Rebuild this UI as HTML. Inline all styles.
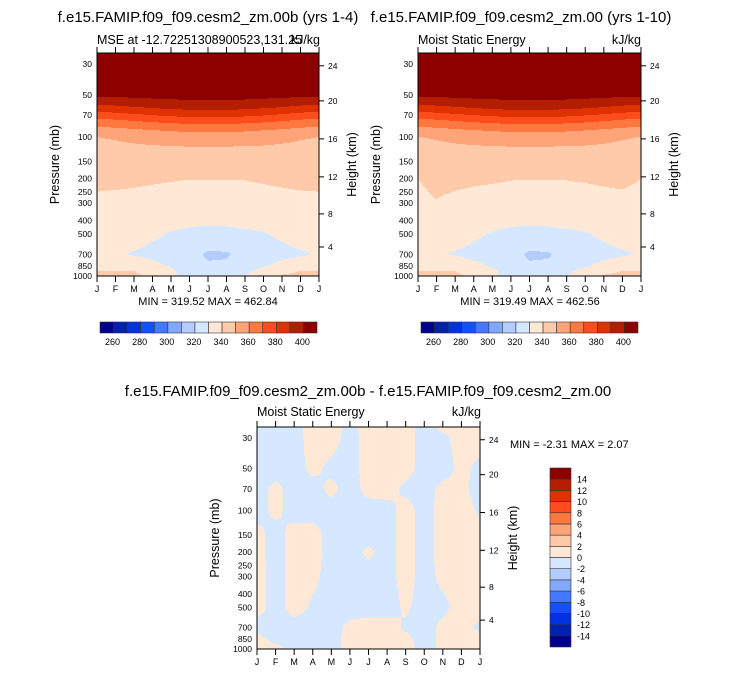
<!DOCTYPE html>
<html><head><meta charset="utf-8"><style>
html,body{margin:0;padding:0;background:#fff;}
svg{display:block;font-family:"Liberation Sans",Arial,sans-serif;}
</style></head><body>
<svg id="fig" width="733" height="674" viewBox="0 0 733 674">
<text x="208" y="22" font-size="15" text-anchor="middle">f.e15.FAMIP.f09_f09.cesm2_zm.00b (yrs 1-4)</text>
<text x="521" y="22" font-size="15" text-anchor="middle">f.e15.FAMIP.f09_f09.cesm2_zm.00 (yrs 1-10)</text>
<text x="368" y="396" font-size="15" text-anchor="middle">f.e15.FAMIP.f09_f09.cesm2_zm.00b - f.e15.FAMIP.f09_f09.cesm2_zm.00</text>
<text x="97" y="44" font-size="12.5">MSE at -12.72251308900523,131.25</text>
<text x="320" y="44" font-size="12.5" text-anchor="end">kJ/kg</text>
<text x="418" y="44" font-size="12.5">Moist Static Energy</text>
<text x="641" y="44" font-size="12.5" text-anchor="end">kJ/kg</text>
<text x="257" y="416" font-size="12.5">Moist Static Energy</text>
<text x="481" y="416" font-size="12.5" text-anchor="end">kJ/kg</text>
<text x="208" y="305" font-size="11" text-anchor="middle">MIN = 319.52 MAX = 462.84</text>
<text x="530" y="305" font-size="11" text-anchor="middle">MIN = 319.49 MAX = 462.56</text>
<text x="510" y="448" font-size="11">MIN =  -2.31 MAX =   2.07</text>
</svg>
<script>
const months = ["J","F","M","A","M","J","J","A","S","O","N","D","J"];
const pTicks = [1000,850,700,500,400,300,250,200,150,100,70,50,30];
const hTicks = [4,8,12,16,20,24];
const hTickP = [619,358,194,103.5,55.2,30.9];
const mseLevels = [260,270,280,290,300,310,320,330,340,350,360,370,380,390,400];
const diffLevels = [-14,-12,-10,-8,-6,-4,-2,0,2,4,6,8,10,12,14];
const palette = ["#00008c","#0020b0","#0032e0","#1450ff","#4678ff","#80a8ff","#b4ccff","#d6e8ff","#ffe8d6","#ffcaaa","#ffa478","#ff7840","#ff4c1c","#e03200","#b41e00","#8c0000"];
const mseP = [1000,925,850,700,600,500,400,300,250,200,125,100,90,80,70,65,60,55,50,40,30,25];
const mseA = [
[342,342,341,339,331,328,327,328,329.5,334,340.8,341.5,342],
[340.3,340.3,340.1,337,331,327.5,327,327.5,329,332,338,340.2,340.3],
[336,335.5,334,331.5,329.5,327,322,323,327.5,329.5,331.5,333.5,335],
[331.5,330.8,329.5,328.5,327.5,326,317.5,318,326,327.5,328.5,329.2,330.5],
[332,331.5,330.8,329.6,328.5,327.5,324,325,328,328.5,329.5,330.8,332],
[333,333,332,331,329.5,328.8,328.5,328.6,329,329.6,331,332.5,333],
[334,334,333.5,333,332,331,331,331,331.5,332,333,334,334],
[337,337,336.8,336.5,336.2,336,336,336,336,336.3,336.6,336.9,337],
[339.9,339.6,339.3,339,338.7,338.5,338.5,338.5,338.6,338.9,339.3,339.7,339.9],
[342.4,342,341.4,340.8,340.4,340.1,340.1,340.1,340.2,340.7,341.3,342,342.4],
[347.5,347.6,347.7,347.8,347.9,348,348,348,347.9,347.9,347.7,347.6,347.5],
[350,350.8,352.2,353.5,354.6,355.4,355.4,355.4,354.9,353.8,352.4,350.8,350],
[356.1,356.9,358.3,359.6,360.7,361.5,361.5,361.5,361,359.9,358.5,356.9,356.1],
[363.9,364.9,366.7,368.4,369.8,370.8,370.8,370.8,370.1,368.7,367,364.9,363.9],
[374.9,376,378,379.9,381.4,382.6,382.6,382.6,381.8,380.3,378.4,376,374.9],
[381.9,382.9,384.6,386.3,387.7,388.7,388.7,388.7,388,386.7,385,382.9,381.9],
[388.6,389.6,391.3,393,394.3,395.3,395.3,395.3,394.6,393.3,391.6,389.6,388.6],
[395,395.6,396.7,397.7,398.6,399.2,399.2,399.2,398.8,397.9,396.9,395.6,395],
[402,402.5,403.2,404,404.5,405,405,405,404.7,404.1,403.4,402.5,402],
[420,420,419.5,419,418.5,418,418,418,418.3,418.8,419.3,420,420],
[445,445,444.5,444,443.5,443,443,443,443.3,443.8,444.3,445,445],
[460,460,460,460,460,460,460,460,460,460,460,460,460]];
const mseB = [
[342,342,341,339,331,328,327,328,329.5,334,340.8,341.5,342],
[340.3,340.3,340.1,337,331,327.5,327,327.5,329,332,338,340.2,340.3],
[336,335.5,334,331.5,329.5,327,322,323,327.5,329.5,331.5,333.5,335],
[331.5,330.8,329.5,328.5,327.5,326,317.5,318.2,326,327.5,328.5,329.2,330.5],
[332,331.5,330.8,329.6,328.5,327.5,324,325,328,328.5,329.5,330.8,332],
[333,333,332,331,329.5,328.8,328.5,328.6,329,329.6,331,332.5,333],
[334,334.5,333.5,333,332,331,331,331,331.5,332,333,334,334],
[337.5,339.5,337,336.7,336.4,336.2,336,336,336,336.3,336.8,338,337.5],
[338.5,341,339.8,339.3,339,338.8,338.6,338.6,338.7,338.9,339.3,339.6,338.5],
[340,343,341.5,341,340.6,340.2,340.1,340.1,340.2,340.5,341,341.6,340],
[347.5,347.6,347.7,347.8,347.9,348,348,348,347.9,347.9,347.7,347.6,347.5],
[349.8,350.8,352.2,353.5,354.6,355.4,355.4,355.4,354.9,353.8,352.4,350.8,349.8],
[356.1,356.9,358.3,359.6,360.7,361.5,361.5,361.5,361,359.9,358.5,356.9,356.1],
[363.9,364.9,366.7,368.4,369.8,370.8,370.8,370.8,370.1,368.7,367,364.9,363.9],
[374.9,376,378,379.9,381.4,382.6,382.6,382.6,381.8,380.3,378.4,376,374.9],
[381.9,382.9,384.6,386.3,387.7,388.7,388.7,388.7,388,386.7,385,382.9,381.9],
[388.6,389.6,391.3,393,394.3,395.3,395.3,395.3,394.6,393.3,391.6,389.6,388.6],
[395,395.6,396.7,397.7,398.6,399.2,399.2,399.2,398.8,397.9,396.9,395.6,395],
[402,402.5,403.2,404,404.5,405,405,405,404.7,404.1,403.4,402.5,402],
[420,420,419.5,419,418.5,418,418,418,418.3,418.8,419.3,420,420],
[445,445,444.5,444,443.5,443,443,443,443.3,443.8,444.3,445,445],
[460,460,460,460,460,460,460,460,460,460,460,460,460]];
const diffP = [1000,850,700,500,300,200,150,100,70,50,30,25];
const diffV = [
[0.8,0.8,-0.8,-0.8,-0.8,0.8,0.8,0.5,0.8,-0.8,0.5,0.8,0.8],
[0.8,-0.8,-0.8,-0.8,-0.8,0.8,0.8,0.8,0.5,-0.8,0.5,0.8,0.8],
[-0.8,-0.8,-0.8,-0.8,-0.8,0.5,0.8,0.8,-0.3,-0.8,0.5,0.8,-0.5],
[0.8,-0.8,0.8,-0.3,-0.8,-0.8,-0.8,-0.8,0.3,-0.8,-0.5,0.8,0.8],
[0.8,-0.8,0.8,0.5,-0.8,-0.8,-0.8,-0.8,0.8,-0.8,0.5,0.5,0.8],
[0.6,-0.8,0.8,0.8,-0.8,-0.8,0.4,-0.8,0.8,-0.8,0.8,0.8,0.8],
[0.6,-0.8,0.8,0.8,-0.8,-0.8,-0.8,-0.8,0.8,-0.8,0.8,0.8,0.8],
[-0.8,0.5,-0.8,-0.8,-0.8,-0.8,-0.8,-0.8,0.8,-0.8,0.8,0.8,-0.3],
[-0.8,0.5,-0.8,-0.8,0.5,-0.8,0.6,0.8,-0.5,-0.8,0.5,0.5,-0.8],
[-0.8,-0.8,-0.8,0.5,-0.5,-0.8,0.8,0.8,0.8,-0.8,-0.8,0.5,-0.5],
[-0.8,-0.8,-0.8,0.8,0.8,-0.8,0.8,0.8,0.8,-0.8,-0.5,0.8,0.8],
[-0.8,-0.8,-0.8,0.8,0.8,-0.5,0.8,0.8,0.8,-0.8,0.5,0.8,0.8]];

const NS="http://www.w3.org/2000/svg";
const svg=document.getElementById('fig');
function el(tag,attrs,parent){const e=document.createElementNS(NS,tag);for(const k in attrs)e.setAttribute(k,attrs[k]);(parent||svg).appendChild(e);return e;}
const PTOP=25;
function colorIdx(v,levels){let k=0;while(k<levels.length&&v>=levels[k])k++;return k;}
function interp(pr,rows,mi,lp){
  const lps=pr.map(p=>Math.log(p));
  let j=0;while(j<lps.length-2&&lp<lps[j+1])j++;
  let t=(lps[j]-lp)/(lps[j]-lps[j+1]);t=Math.max(0,Math.min(1,t));
  let i=Math.min(11,Math.floor(mi));const s=mi-i;
  const a=rows[j][i]*(1-s)+rows[j][i+1]*s, b=rows[j+1][i]*(1-s)+rows[j+1][i+1]*s;
  return a*(1-t)+b*t;}
function panel(name,x0,x1,y0,y1,pr,rows,levels){
  const g=el('g',{});
  
  
  const xS=m=>x0+(x1-x0)*m/12;
  const yS=p=>y1-(y1-y0)*Math.log(1000/p)/Math.log(1000/PTOP);
  const cg=el('g',{},g);
  
  
  for(let y=y0;y<y1;y++){
    const yc=y+0.5;const lp=Math.log(1000)-(y1-yc)/(y1-y0)*Math.log(1000/PTOP);
    let runStart=x0,runC=-1;
    for(let x=x0;x<=x1;x++){
      let c=-1;
      if(x<x1){const mi=(x+0.5-x0)/(x1-x0)*12;c=colorIdx(interp(pr,rows,mi,lp),levels);}
      if(c!==runC){
        if(runC>=0){const r=el('rect',{x:runStart,y:y,width:x-runStart,height:1.02,fill:palette[runC]},cg);
          
          }
        runStart=x;runC=c;}
    }
  }
  const fr=el('rect',{x:x0,y:y0,width:x1-x0,height:y1-y0,fill:'none',stroke:'#000','stroke-width':1},g);
  
  
  months.forEach((m,i)=>{
    const x=xS(i);
    el('line',{x1:x,y1:y0,x2:x,y2:y0-6,stroke:'#000'},g);
    el('line',{x1:x,y1:y1,x2:x,y2:y1+6,stroke:'#000'},g);
    const t=el('text',{x:x,y:y1+16,'font-size':9,'text-anchor':'middle'},g);t.textContent=m;
    
    
  });
  pTicks.forEach(p=>{
    const t=el('text',{x:x0-5,y:yS(p)+3,'font-size':8.5,'text-anchor':'end'},g);t.textContent=p;
    
    
  });
  hTicks.forEach((h,i)=>{
    const y=yS(hTickP[i]);
    el('line',{x1:x1,y1:y,x2:x1+5,y2:y,stroke:'#000'},g);
    const t=el('text',{x:x1+9,y:y+3,'font-size':8.5},g);t.textContent=h;
    
    
  });
  const cy=(y0+y1)/2;
  const yl=el('text',{x:0,y:0,'font-size':12.5,'text-anchor':'middle',transform:`translate(${x0-38},${cy}) rotate(-90)`},g);yl.textContent='Pressure (mb)';
  
  
  const hl=el('text',{x:0,y:0,'font-size':12.5,'text-anchor':'middle',transform:`translate(${x1+37},${cy}) rotate(-90)`},g);hl.textContent='Height (km)';
  
  
}
panel('left-mse',97,319,53,276,mseP,mseA,mseLevels);
panel('right-mse',418,641,53,276,mseP,mseB,mseLevels);
panel('difference',257,480,427,649,diffP,diffV,diffLevels);

function hbar(name,x0,y0,w,h,labels){
  const g=el('g',{});
  
  
  const bw=w/16;
  palette.forEach((c,i)=>{const r=el('rect',{x:x0+i*bw,y:y0,width:bw,height:h,fill:c,stroke:'#333','stroke-width':0.6},g);
    
    });
  labels.forEach((l,i)=>{if(i%2===0){const t=el('text',{x:x0+(i+1)*bw-1,y:y0+h+12,'font-size':9,'text-anchor':'middle'},g);t.textContent=l;
    
    }});
}
hbar('left-colorbar',100,322,217,11,mseLevels);
hbar('right-colorbar',421,322,217,11,mseLevels);
(function(){
  const g=el('g',{});
  
  
  const x0=550,y0=468,w=21,h=179,bh=h/16;
  palette.forEach((c,i)=>{const r=el('rect',{x:x0,y:y0+(15-i)*bh,width:w,height:bh,fill:c,stroke:'#333','stroke-width':0.6},g);
    
    });
  diffLevels.forEach((l,i)=>{const t=el('text',{x:x0+w+6,y:y0+(15-i)*bh+3.5,'font-size':9},g);t.textContent=l;
    
    });
})();
</script>
</body></html>
